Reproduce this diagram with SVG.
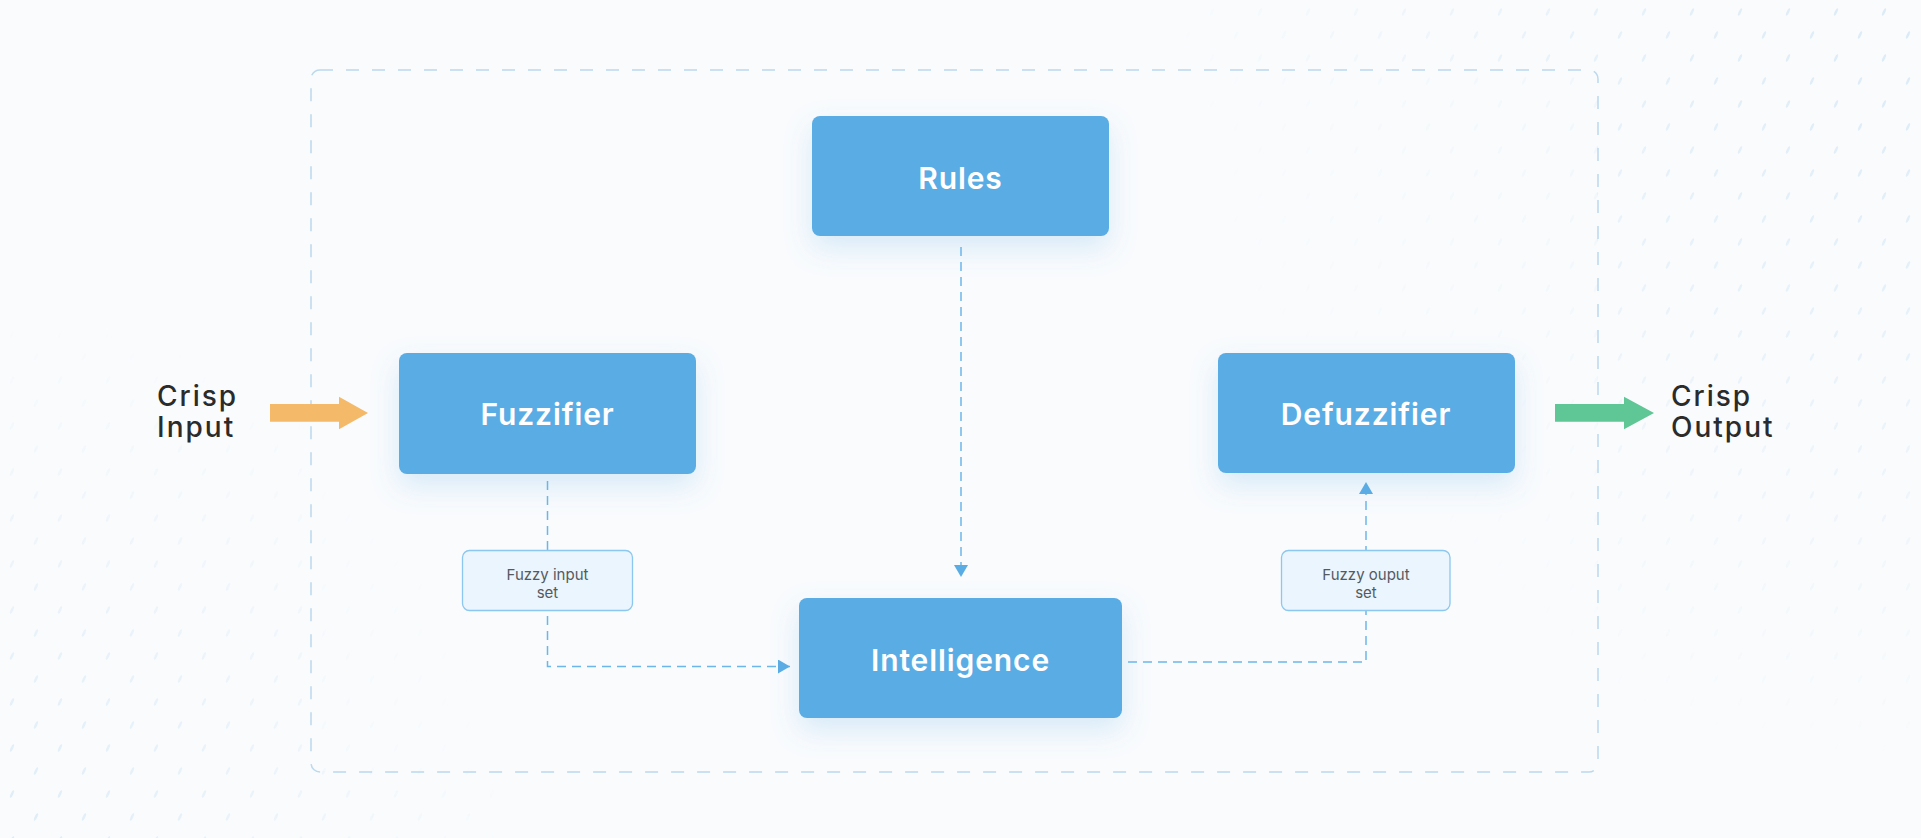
<svg xmlns="http://www.w3.org/2000/svg" width="1921" height="838" viewBox="0 0 1921 838">
  <defs>
    <filter id="glow" x="-30%" y="-30%" width="160%" height="190%">
      <feDropShadow dx="0" dy="12" stdDeviation="14" flood-color="#5aace5" flood-opacity="0.22"/>
    </filter>
    <marker id="ah" viewBox="0 0 12 14" refX="12" refY="7" markerWidth="12" markerHeight="14" markerUnits="userSpaceOnUse" orient="auto">
      <path d="M0,0 L12,7 L0,14 Z" fill="#5aace5"/>
    </marker>
    <pattern id="ticks" x="0" y="0" width="48" height="46" patternUnits="userSpaceOnUse">
      <ellipse cx="12" cy="12" rx="1.3" ry="4" transform="rotate(25 12 12)" fill="#b9d8f0"/>
      <ellipse cx="36" cy="35" rx="1.3" ry="4" transform="rotate(25 36 35)" fill="#b9d8f0"/>
    </pattern>
    <radialGradient id="fadeTR" cx="1921" cy="0" r="760" gradientUnits="userSpaceOnUse">
      <stop offset="0" stop-color="#fff" stop-opacity="0.8"/>
      <stop offset="1" stop-color="#fff" stop-opacity="0"/>
    </radialGradient>
    <radialGradient id="fadeBL" cx="0" cy="838" r="520" gradientUnits="userSpaceOnUse">
      <stop offset="0" stop-color="#fff" stop-opacity="0.7"/>
      <stop offset="1" stop-color="#fff" stop-opacity="0"/>
    </radialGradient>
    <mask id="decoMask">
      <rect x="0" y="0" width="1921" height="838" fill="url(#fadeTR)"/>
      <rect x="0" y="0" width="1921" height="838" fill="url(#fadeBL)"/>
    </mask>
    <style>
      .node { fill: #5aace5; filter: url(#glow); }
      .ntext { font-family: Inter, "Liberation Sans", sans-serif; font-size: 30px; font-weight: 600; fill: #ffffff; text-anchor: middle; letter-spacing: 0.9px; }
      .side { font-family: Inter, "Liberation Sans", sans-serif; font-size: 28px; font-weight: 500; fill: #2b2b2b; letter-spacing: 2px; }
      .set { fill: #eaf5fe; stroke: #8cc7ef; stroke-width: 1.3; }
      .stext { font-family: Inter, "Liberation Sans", sans-serif; font-size: 15px; font-weight: 400; fill: #555a60; text-anchor: middle; }
      .conn { fill: none; stroke: #6cb6ea; stroke-width: 1.5; stroke-dasharray: 9 6; }
      .frame { fill: none; stroke: #bcd9ee; stroke-width: 1.5; stroke-dasharray: 13 13; }
    </style>
  </defs>
  <rect x="0" y="0" width="1921" height="838" fill="#f9fbfd"/>
  <rect x="0" y="0" width="1921" height="838" fill="url(#ticks)" mask="url(#decoMask)" opacity="0.6"/>
  <rect x="312" y="71" width="1285" height="700" fill="#f9fbfd" opacity="0.5"/>

  <rect class="frame" x="311" y="70" width="1287" height="702" rx="9"/>

  <g id="connectors">
    <path class="conn" d="M961,247 V577" marker-end="url(#ah)"/>
    <path class="conn" d="M547.5,481 V666.5 H790" marker-end="url(#ah)"/>
    <path class="conn" d="M1128,662 H1366 V482" marker-end="url(#ah)"/>
    <path d="M270,404 H339 V396.7 L368,413 L339,429.3 V421.7 H270 Z" fill="#f5b96a"/>
    <path d="M1555,404 H1624 V396.7 L1654,413 L1624,429.3 V421.7 H1555 Z" fill="#5fc695"/>
  </g>

  <g id="rules">
    <rect class="node" x="812" y="116" width="297" height="120" rx="8"/>
    <text class="ntext" x="960.5" y="189">Rules</text>
  </g>
  <g id="fuzzifier">
    <rect class="node" x="399" y="353" width="297" height="121" rx="8"/>
    <text class="ntext" x="547.5" y="425">Fuzzifier</text>
  </g>
  <g id="defuzzifier">
    <rect class="node" x="1218" y="353" width="297" height="120" rx="8"/>
    <text class="ntext" x="1366" y="425">Defuzzifier</text>
  </g>
  <g id="intelligence">
    <rect class="node" x="799" y="598" width="323" height="120" rx="8"/>
    <text class="ntext" x="960.5" y="671">Intelligence</text>
  </g>
  <g id="fuzzy-input-set">
    <rect class="set" x="462.5" y="550.5" width="170" height="60" rx="7"/>
    <text class="stext" x="547.5" y="580">Fuzzy input</text>
    <text class="stext" x="547.5" y="597.5">set</text>
  </g>
  <g id="fuzzy-output-set">
    <rect class="set" x="1281.5" y="550.5" width="168.5" height="60" rx="7"/>
    <text class="stext" x="1366" y="580">Fuzzy ouput</text>
    <text class="stext" x="1366" y="597.5">set</text>
  </g>
  <g id="crisp-input">
    <text class="side" x="157" y="406">Crisp</text>
    <text class="side" x="157" y="437">Input</text>
  </g>
  <g id="crisp-output">
    <text class="side" x="1671" y="406">Crisp</text>
    <text class="side" x="1671" y="437">Output</text>
  </g>
</svg>
